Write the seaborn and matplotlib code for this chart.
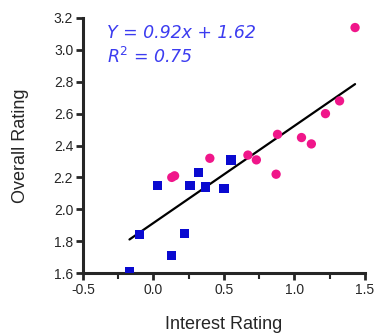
import numpy as np
import pandas as pd
import matplotlib
matplotlib.use("Agg")
import matplotlib.pyplot as plt
import seaborn as sns
from matplotlib.ticker import MultipleLocator

# blue squares
sq_x = [-0.17, -0.10, 0.03, 0.13, 0.22, 0.26, 0.32, 0.37, 0.50, 0.55]
sq_y = [1.61, 1.84, 2.15, 1.71, 1.85, 2.15, 2.23, 2.14, 2.13, 2.31]
# pink circles
ci_x = [0.13, 0.15, 0.40, 0.67, 0.73, 0.87, 0.88, 1.05, 1.12, 1.22, 1.32, 1.43]
ci_y = [2.20, 2.21, 2.32, 2.34, 2.31, 2.22, 2.47, 2.45, 2.41, 2.60, 2.68, 3.14]

df = pd.DataFrame({
    "interest": sq_x + ci_x,
    "overall": sq_y + ci_y,
    "group": ["a"] * len(sq_x) + ["b"] * len(ci_x),
})

sns.set_style("ticks")
plt.rcParams["font.family"] = ["Liberation Sans", "DejaVu Sans"]

fig = plt.figure(figsize=(3.77, 3.33), dpi=100)
ax = fig.add_axes([0.220, 0.180, 0.748, 0.766])

sns.regplot(data=df, x="interest", y="overall", scatter=False, ci=None,
            truncate=True, color="black", line_kws={"lw": 1.6}, ax=ax)
sns.scatterplot(data=df, x="interest", y="overall", hue="group", style="group",
                palette={"a": "#0a0ad0", "b": "#f0168a"},
                markers={"a": "s", "b": "o"}, s=45, linewidth=0,
                legend=False, ax=ax, zorder=3)

ax.set_xlim(-0.5, 1.5)
ax.set_ylim(1.6, 3.2)
ax.xaxis.set_major_locator(MultipleLocator(0.5))
ax.xaxis.set_minor_locator(MultipleLocator(0.25))
ax.yaxis.set_major_locator(MultipleLocator(0.2))
ax.set_xticklabels([f"{v:.1f}" for v in ax.get_xticks()])
ax.set_yticklabels([f"{v:.1f}" for v in ax.get_yticks()])
ax.tick_params(axis="both", which="major", length=5, width=2, labelsize=10, pad=2)
ax.tick_params(axis="x", which="minor", length=4, width=1.5)
for side in ("left", "bottom"):
    ax.spines[side].set_linewidth(2.2)
sns.despine(ax=ax)

ax.set_xlabel("Interest Rating", fontsize=13, labelpad=14)
ax.set_ylabel("Overall Rating", fontsize=13, labelpad=18)

ax.text(0.085, 0.975, "Y = 0.92x + 1.62", transform=ax.transAxes, color="#3c3cf0",
        fontsize=12.5, style="italic", family=["DejaVu Sans"], va="top")
ax.text(0.085, 0.885, "R$^2$ = 0.75", transform=ax.transAxes, color="#3c3cf0",
        fontsize=12.5, style="italic", family=["DejaVu Sans"], va="top")

fig.savefig("out.png", dpi=100)
